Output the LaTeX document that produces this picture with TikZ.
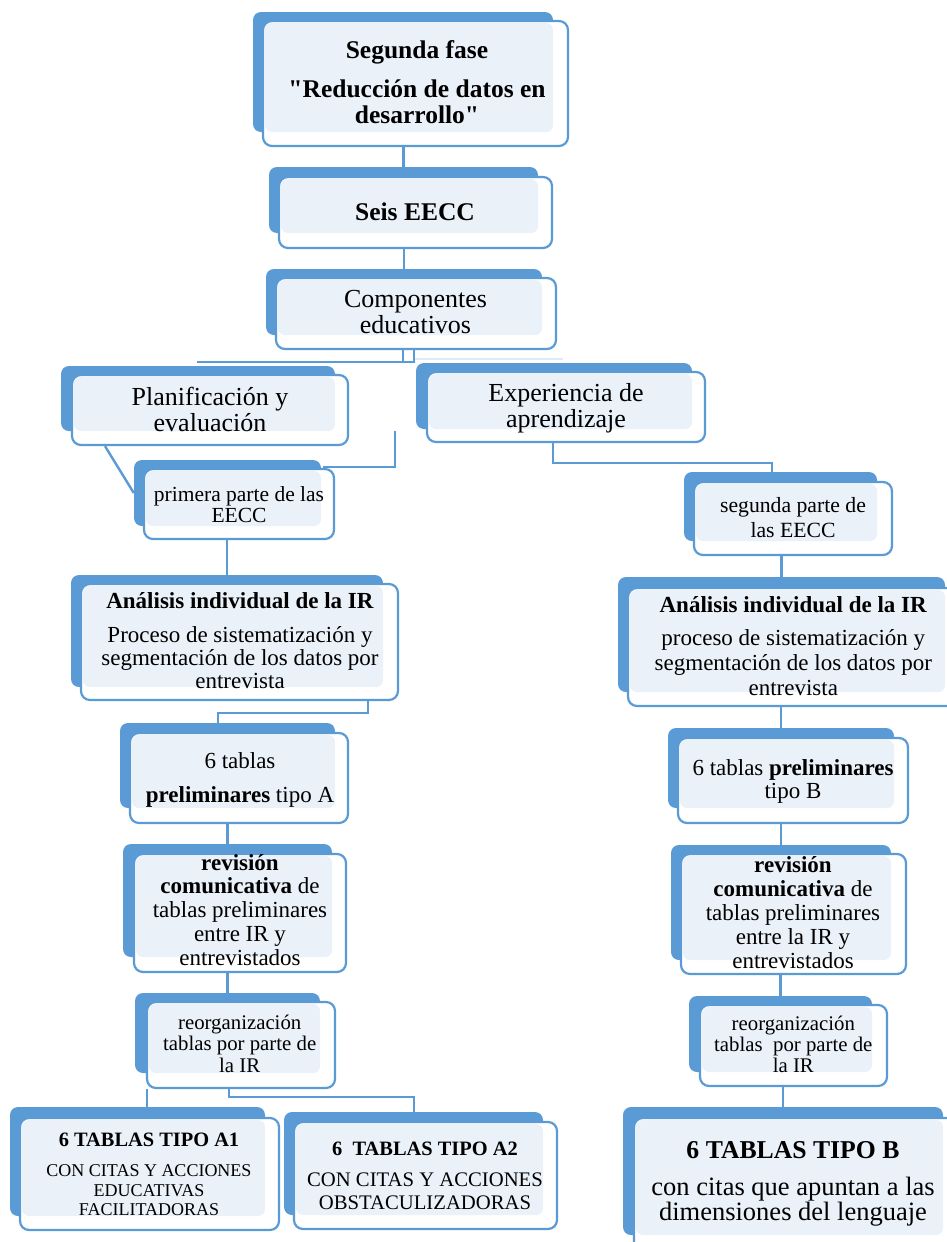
\documentclass[tikz,border=0pt]{standalone}
\usepackage{fontspec}
\setmainfont{Liberation Serif}[Ligatures=TeXOff]
\definecolor{accent}{HTML}{5B9BD5}
\definecolor{paper}{HTML}{EAF1F9}
\newcommand\setfs[2]{\fontsize{#1}{#2}\selectfont}
\tikzset{
  backbox/.style={fill=accent, draw=none, rounded corners=8pt, inner sep=0pt},
  frontbox/.style={draw=accent, line width=2.2pt, fill=white, rounded corners=9pt, inner sep=0pt},
  link/.style={draw=accent, line width=2.4pt},
  txt/.style={align=center, inner sep=0pt, text=black},
}
% name, back box (x1,y1,x2,y2), front box (x1,y1,x2,y2)
\newcommand\panel[9]{%
  \node[backbox, minimum width={(#4-#2)*1pt}, minimum height={(#5-#3)*1pt}] (#1b) at ({(#2+#4)/2},{(#3+#5)/2}) {};
  \node[frontbox, minimum width={(#8-#6)*1pt}, minimum height={(#9-#7)*1pt}] (#1) at ({(#6+#8)/2},{(#7+#9)/2}) {};
  \fill[paper, rounded corners=7pt] ({#6+2},{#7+2}) rectangle (#4,#5);
}
\begin{document}
\lineskiplimit=-100pt
\begin{tikzpicture}[x=1pt,y=-1pt]
\useasboundingbox (0,0) rectangle (947,1242);
\clip (0,0) rectangle (947,1242);
\fill[white] (0,0) rectangle (947,1242);

% central column
\panel{p1}{253}{12}{553}{132}{263}{21}{568}{146}
\panel{p2}{269}{167}{538}{233}{279}{177}{552}{248}
\panel{p3}{266}{269}{542}{335}{276}{278}{556}{349}
% left branch
\panel{p4}{61}{366}{335}{431}{72}{375}{348}{445}
\panel{p5}{134}{460}{321}{526}{144}{469}{334}{539}
\panel{p6}{71}{575}{383}{687}{81}{584}{398}{700}
\panel{p7}{120}{723}{335}{808}{130}{733}{348}{823}
\panel{p8}{123}{844}{332}{957}{134}{854}{346}{972}
\panel{p9}{135}{993}{320}{1073}{147}{1002}{335}{1088}
\panel{p10}{10}{1107}{265}{1216}{20}{1118}{279}{1230}
\panel{p11}{284}{1112}{543}{1215}{294}{1122}{557}{1229}
% right branch
\panel{p12}{416}{363}{692}{429}{427}{372}{705}{442}
\panel{p13}{684}{472}{877}{541}{694}{482}{892}{555}
\panel{p14}{618}{577}{945}{692}{628}{588}{962}{706}
\panel{p15}{668}{728}{894}{808}{678}{738}{908}{823}
\panel{p16}{671}{845}{891}{960}{681}{854}{906}{974}
\panel{p17}{689}{996}{872}{1072}{700}{1005}{887}{1086}
\panel{p18}{623}{1107}{943}{1235}{634}{1118}{962}{1256}

% labels
\node[txt, font=\setfs{25.5}{26}\bfseries] (t1) at (417,85.3)
  {\strut Segunda fase\\[13pt]"Reducción de datos en\\desarrollo"\strut};
\node[txt, font=\setfs{25.5}{26}\bfseries] (t2) at (415,214.8) {\strut Seis EECC\strut};
\node[txt, font=\setfs{26}{26}] (t3) at (415.5,314.8) {\strut Componentes\\educativos\strut};
\node[txt, font=\setfs{26}{26}] (t4) at (210,412.8) {\strut Planificación y\\evaluación\strut};
\node[txt, font=\setfs{26}{25.5}] (t12) at (566,409.4) {\strut Experiencia de\\aprendizaje\strut};
\node[txt, font=\setfs{21.5}{21}] (t5) at (239,507.8) {\strut primera parte de las\\EECC\strut};
\node[txt, font=\setfs{23}{23}] (t6) at (240,643.4)
  {\strut\textbf{Análisis individual de la IR}\\[11pt]Proceso de sistematización y\\segmentación de los datos por\\entrevista\strut};
\node[txt, font=\setfs{23}{23}] (t7) at (240,780.4) {\strut 6 tablas\\[11pt]\textbf{preliminares} tipo A\strut};
\node[txt, font=\setfs{23}{23.75}] (t8) at (240,912.75)
  {\strut\textbf{revisión}\\\textbf{comunicativa} de\\tablas preliminares\\entre IR y\\entrevistados\strut};
\node[txt, font=\setfs{20.8}{21.5}] (t9) at (239.7,1046.2) {\strut reorganización\\tablas por parte de\\la IR\strut};
\node[txt, font=\setfs{18}{19.5}] (t10) at (149,1177.1)
  {\strut{\setfs{20.4}{19.5}\bfseries 6 TABLAS TIPO A1}\\[11pt]CON CITAS Y ACCIONES\\EDUCATIVAS\\FACILITADORAS\strut};
\node[txt, font=\setfs{20.7}{23}] (t11) at (425,1177.4)
  {\strut{\setfs{20.4}{23}\bfseries 6\enspace TABLAS TIPO A2}\\[8pt]CON CITAS Y ACCIONES\\OBSTACULIZADORAS\strut};
\node[txt, font=\setfs{21.7}{25}] (t13) at (793,519.5) {\strut segunda parte de\\las EECC\strut};
\node[txt, font=\setfs{23}{25}] (t14) at (793.3,648.5)
  {\strut\textbf{Análisis individual de la IR}\\[8pt]proceso de sistematización y\\segmentación de los datos por\\entrevista\strut};
\node[txt, font=\setfs{23}{23}] (t15) at (793,781.9) {\strut 6 tablas \textbf{preliminares}\\tipo B\strut};
\node[txt, font=\setfs{23}{24}] (t16) at (793,915.2)
  {\strut\textbf{revisión}\\\textbf{comunicativa} de\\tablas preliminares\\entre la IR y\\entrevistados\strut};
\node[txt, font=\setfs{20.8}{21}] (t17) at (793.3,1046.8) {\strut reorganización\\tablas\enspace por parte de\\la IR\strut};
\node[txt, font=\setfs{26.5}{25}] (t18) at (793,1184)
  {\strut{\setfs{25.7}{25}\bfseries 6 TABLAS TIPO B}\\[12pt]con citas que apuntan a las\\dimensiones del lenguaje\strut};

% joints of the connectors
\coordinate (k1) at (403,362);
\coordinate (k2) at (414,362);
\coordinate (k3) at (197,362);
\coordinate (k4) at (563,359);
\coordinate (d1) at (105,0);
\coordinate (s1) at (395,431);
\coordinate (s2) at (323,467);
\coordinate (e1) at (553,463);
\coordinate (e2) at (772,463);
\coordinate (a1) at (368,713);
\coordinate (a2) at (218,713);
\coordinate (r1) at (147,0);
\coordinate (r2) at (229,1097);
\coordinate (r3) at (414,1097);

% connectors
\draw[link] (p1.south -| p2b.north) -- (p2b.north);
\draw[link] (p2.south -| p3b.north) -- (p3b.north);
\draw[link] (p3.south -| k1) -- (k1) -- (k3);
\draw[link] (p3.south -| k2) -- (k2) -- (k1);
\draw[link, draw opacity=0.2] (k2 |- k4) -- (k4);
\draw[link] (p4.south -| d1) -- (p5b.west);
\draw[link] (s1) |- (s2);
\draw[link] (p12.south -| e1) -- (e1) -- (e2) -- (p13b.north -| e2);
\draw[link] (p5.south -| p6b.north) -- (p6b.north);
\draw[link] (p6.south -| a1) -- (a1) -- (a2) -- (p7b.north -| a2);
\draw[link] (p7.south -| p8b.north) -- (p8b.north);
\draw[link] (p8.south -| p9b.north) -- (p9b.north);
\draw[link] (p9.south -| r1) -- (p10b.north -| r1);
\draw[link] (p9.south -| r2) -- (r2) -- (r3) -- (p11b.north -| r3);
\draw[link] (p13.south -| p14b.north) -- (p14b.north);
\draw[link] (p14.south -| p15b.north) -- (p15b.north);
\draw[link] (p15.south -| p16b.north) -- (p16b.north);
\draw[link] (p16.south -| p17b.north) -- (p17b.north);
\draw[link] (p17.south -| p18b.north) -- (p18b.north);
\end{tikzpicture}
\end{document}
